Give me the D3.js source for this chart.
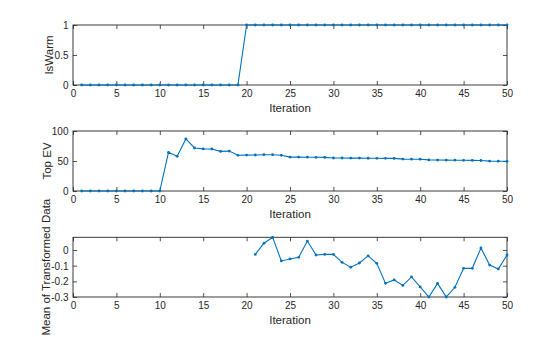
<!DOCTYPE html>
<html>
<head>
<meta charset="utf-8">
<script src="https://cdn.jsdelivr.net/npm/d3@7"></script>
<style>
  html, body { margin: 0; padding: 0; background: #fff; }
  svg { display: block; font-family: "Liberation Sans", Arial, Helvetica, sans-serif; }
</style>
</head>
<body>
<svg id="chart" width="560" height="337"></svg>
<script>
// Iteration index 1..50
const iterations = Array.from({length: 50}, (_, i) => i + 1);

// Panel 1: warm-start flag per iteration
const isWarm = [
  0,0,0,0,0,0,0,0,0,0,
  0,0,0,0,0,0,0,0,0,1,
  1,1,1,1,1,1,1,1,1,1,
  1,1,1,1,1,1,1,1,1,1,
  1,1,1,1,1,1,1,1,1,1
];

// Panel 2: top eigenvalue per iteration
const topEV = [
  0,0,0,0,0,0,0,0,0,0,
  64.5,57.8,86.7,71.7,70.2,70,66,66.5,59.5,59.8,
  60,60.5,60.5,59.5,56.5,56.5,56.3,56.2,56,55,
  55,54.8,54.8,54.6,54.5,54.4,54.3,53.2,53,53,
  51.8,51.6,51.5,51.3,51.2,51,50.8,49.8,49.7,49.5
];

// Panel 3: mean of transformed data (defined from iteration 21 on)
const meanIterations = iterations.slice(20);
const meanTransformed = [
  -0.028,0.043,0.081,-0.070,-0.057,-0.047,0.057,-0.032,-0.028,-0.028,
  -0.079,-0.110,-0.083,-0.038,-0.085,-0.213,-0.191,-0.226,-0.172,-0.236,
  -0.300,-0.213,-0.300,-0.238,-0.117,-0.117,0.013,-0.096,-0.121,-0.032
];

const xTicks = [0,5,10,15,20,25,30,35,40,45,50];

const panels = [
  { label: "IsWarm", xs: iterations, ys: isWarm, domain: [0, 1],
    ticks: [0, 0.5, 1], fmt: d => String(d), top: 25, bottom: 85, lx: 53 },
  { label: "Top EV", xs: iterations, ys: topEV, domain: [0, 100],
    ticks: [0, 50, 100], fmt: d => String(d), top: 131, bottom: 191, lx: 50.5 },
  { label: "Mean of Transformed Data", xs: meanIterations, ys: meanTransformed, domain: [-0.3, 0.081],
    ticks: [-0.3, -0.2, -0.1, 0], fmt: d => (d === 0 ? "0" : d.toFixed(1)), top: 237.3, bottom: 297, lx: 50 }
];

const svg = d3.select("#chart");
const left = 73, right = 507;
const axisColor = "#262626";
const lineColor = "#0072BD";
const tickLen = 4;

const x = d3.scaleLinear().domain([0, 50]).range([left, right]);

panels.forEach(p => {
  const y = d3.scaleLinear().domain(p.domain).range([p.bottom, p.top]);
  const g = svg.append("g");

  // bottom axis with inward ticks
  const xb = g.append("g").attr("transform", `translate(0,${p.bottom})`)
    .call(d3.axisBottom(x).tickValues(xTicks).tickSize(-tickLen).tickPadding(5.3).tickFormat(d3.format("d")));
  // top axis, ticks only
  const xt = g.append("g").attr("transform", `translate(0,${p.top})`)
    .call(d3.axisTop(x).tickValues(xTicks).tickSize(-tickLen).tickFormat(""));
  // left axis with labels
  const yl = g.append("g").attr("transform", `translate(${left},0)`)
    .call(d3.axisLeft(y).tickValues(p.ticks).tickSize(-tickLen).tickPadding(4.5).tickFormat(p.fmt));
  // right axis, ticks only
  const yr = g.append("g").attr("transform", `translate(${right},0)`)
    .call(d3.axisRight(y).tickValues(p.ticks).tickSize(-tickLen).tickFormat(""));

  [xb, xt, yl, yr].forEach(a => {
    a.select(".domain").remove();
    a.selectAll("line").attr("stroke", axisColor).attr("stroke-width", 0.8);
    a.selectAll("text").attr("fill", axisColor).attr("font-size", 10)
      .attr("font-family", "'Liberation Sans', Arial, sans-serif");
  });
  yl.selectAll("text").attr("dy", "0.35em");

  // box
  g.append("rect")
    .attr("x", left).attr("y", p.top)
    .attr("width", right - left).attr("height", p.bottom - p.top)
    .attr("fill", "none").attr("stroke", axisColor).attr("stroke-width", 0.9);

  // data line
  const pts = p.xs.map((d, i) => [d, p.ys[i]]);
  g.append("path")
    .datum(pts)
    .attr("fill", "none")
    .attr("stroke", lineColor)
    .attr("stroke-width", 1.1)
    .attr("d", d3.line().x(d => x(d[0])).y(d => y(d[1])));

  // point markers
  g.selectAll("circle.pt").data(pts).enter().append("circle")
    .attr("class", "pt")
    .attr("cx", d => x(d[0])).attr("cy", d => y(d[1]))
    .attr("r", 1.4).attr("fill", lineColor);

  // x label
  g.append("text")
    .attr("x", (left + right) / 2).attr("y", p.bottom + 26.8)
    .attr("text-anchor", "middle").attr("font-size", 11.5).attr("fill", axisColor)
    .text("Iteration");

  // y label
  const cy = (p.top + p.bottom) / 2;
  g.append("text")
    .attr("transform", `translate(${p.lx},${cy}) rotate(-90)`)
    .attr("text-anchor", "middle").attr("font-size", 11.5).attr("fill", axisColor)
    .text(p.label);
});
</script>
</body>
</html>
